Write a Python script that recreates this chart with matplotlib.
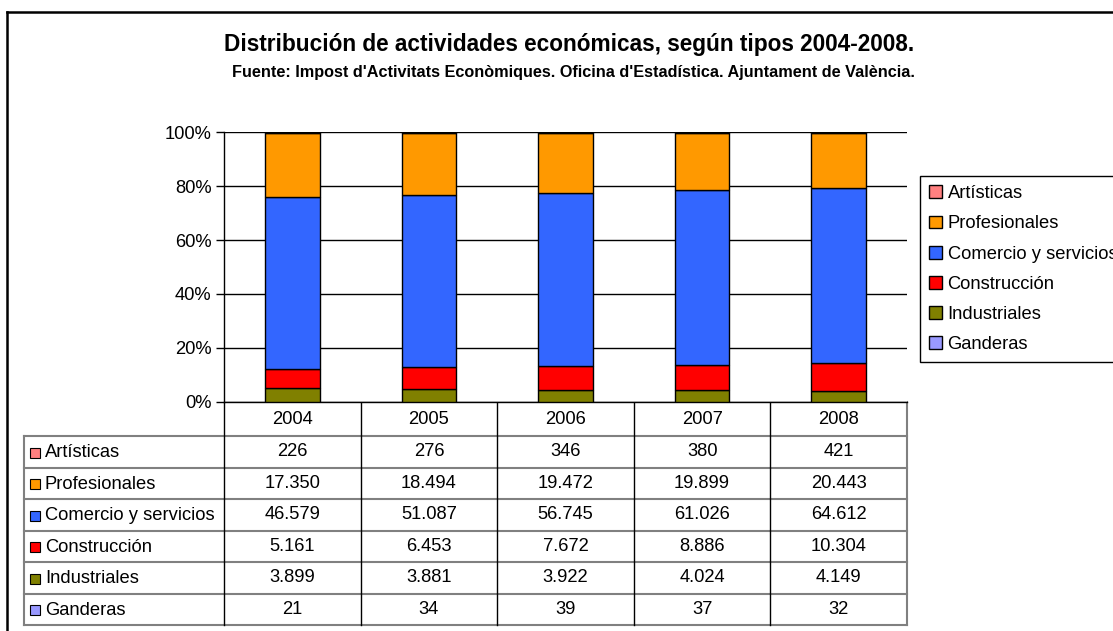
import matplotlib.pyplot as plt
import numpy as np
from matplotlib.patches import Rectangle

plt.rcParams["font.family"] = ["Liberation Sans", "DejaVu Sans"]

years = ["2004", "2005", "2006", "2007", "2008"]
# bottom to top stacking order
series = ["Ganderas", "Industriales", "Construcción", "Comercio y servicios", "Profesionales", "Artísticas"]
ganderas = [21, 34, 39, 37, 32]
industriales = [3899, 3881, 3922, 4024, 4149]
construccion = [5161, 6453, 7672, 8886, 10304]
comercio = [46579, 51087, 56745, 61026, 64612]
profesionales = [17350, 18494, 19472, 19899, 20443]
artisticas = [226, 276, 346, 380, 421]
colors = ["#9999FF", "#808000", "#FF0000", "#3366FF", "#FF9900", "#FF8080"]

values = np.array([ganderas, industriales, construccion, comercio, profesionales, artisticas], dtype=float)
shares = values / values.sum(axis=0) * 100

FS = 13.2
W, H = 1113, 631
fig = plt.figure(figsize=(W / 100, H / 100), dpi=100)

# pixel layout of the plot area
left, right, top, bottom = 224, 907, 132, 402
ax = fig.add_axes([left / W, 1 - bottom / H, (right - left) / W, (bottom - top) / H])
x = np.arange(len(years))
base = np.zeros(len(years))
for name, vals, c in zip(series, shares, colors):
    ax.bar(x, vals, 0.4, bottom=base, color=c, edgecolor="black", linewidth=1.0, label=name, zorder=3)
    base += vals
ax.set_xlim(-0.5, len(years) - 0.5)
ax.set_ylim(0, 100)
ax.set_yticks(np.arange(0, 101, 20))
ax.set_yticklabels([f"{v}%" for v in range(0, 101, 20)], fontsize=FS)
ax.set_xticks([])
ax.grid(True, axis="y", color="black", linewidth=1.0, zorder=0)
for s in ["top", "right"]:
    ax.spines[s].set_visible(False)
ax.spines["left"].set_linewidth(1.0)
ax.spines["bottom"].set_linewidth(1.0)
ax.tick_params(axis="y", length=6, width=1.0, pad=3)

# overlay in pixel coordinates for table, titles and border
ov = fig.add_axes([0, 0, 1, 1], zorder=-1)
ov.set_xlim(0, W)
ov.set_ylim(H, 0)
ov.axis("off")

ov.plot([7, W], [12, 12], color="black", lw=1.8)
ov.plot([7, 7], [12, H], color="black", lw=1.8)

ov.text(569, 45, "Distribución de actividades económicas, según tipos 2004-2008.",
        ha="center", va="center", fontsize=16.3, fontweight="bold")
ov.text(573, 73, "Fuente: Impost d'Activitats Econòmiques. Oficina d'Estadística. Ajuntament de València.",
        ha="center", va="center", fontsize=11.7, fontweight="bold")

# data table
tab_left = 24
hdr_bot = 436
row_h = 31.5
ncol = len(years)
col_w = (right - left) / ncol
rows = list(reversed(list(zip(series, values, colors))))
tab_bot = hdr_bot + row_h * len(rows)
gray = "#808080"
for i in range(0, len(rows) + 1):
    ov.plot([tab_left, right], [hdr_bot + row_h * i, hdr_bot + row_h * i], color=gray, lw=1.5)
ov.plot([tab_left, tab_left], [hdr_bot, tab_bot], color=gray, lw=1.5)
for j in range(ncol + 1):
    xx = left + col_w * j
    ov.plot([xx, xx], [bottom, tab_bot], color="black" if j < ncol else gray, lw=1.0 if j < ncol else 1.5)
for j, yr in enumerate(years):
    ov.text(left + col_w * (j + 0.5), (bottom + hdr_bot) / 2, yr, ha="center", va="center", fontsize=FS)
for i, (name, vals, c) in enumerate(rows):
    yc = hdr_bot + row_h * (i + 0.5)
    ov.add_patch(Rectangle((30, yc - 4), 10, 10, facecolor=c, edgecolor="black", lw=0.8))
    ov.text(45, yc + 1, name, ha="left", va="center", fontsize=FS)
    for j, v in enumerate(vals):
        ov.text(left + col_w * (j + 0.5), yc, f"{int(v):,}".replace(",", "."),
                ha="center", va="center", fontsize=FS)

handles, labels = ax.get_legend_handles_labels()
leg = fig.legend(handles[::-1], labels[::-1], loc="upper left",
                 bbox_to_anchor=(920 / W, 1 - 176 / H), fontsize=FS,
                 handlelength=0.7, handleheight=0.7, handletextpad=0.3,
                 labelspacing=0.72, borderpad=0.5, borderaxespad=0, fancybox=False, framealpha=1)
leg.get_frame().set_edgecolor("black")
leg.get_frame().set_linewidth(1.0)

fig.savefig("out.png", dpi=100)
